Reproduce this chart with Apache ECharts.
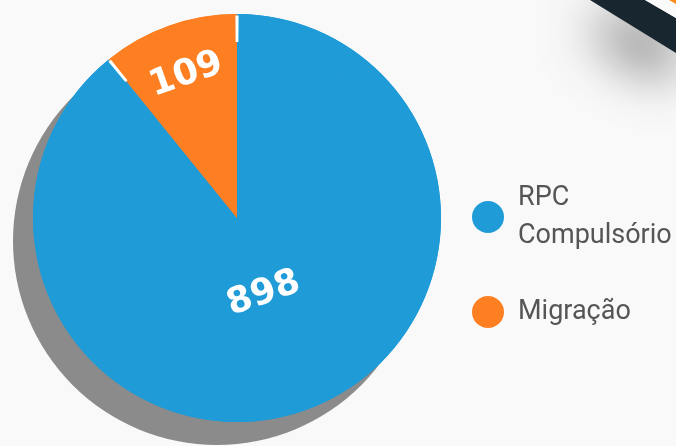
<!DOCTYPE html>
<html>
<head>
<meta charset="utf-8">
<script src="https://cdn.jsdelivr.net/npm/echarts@6/dist/echarts.min.js"></script>
<style>
	html, body { margin: 0; padding: 0; background: #f9f9f9; }
	#chart { width: 676px; height: 446px; }
</style>
</head>
<body>
<div id="chart"></div>
<script>
// dados do gráfico
var categorias = ["RPC Compulsório", "Migração"];
var valores = [898, 109];
var cores = ["#1f9bd7", "#fe7f22"];

var total = valores.reduce(function (a, b) { return a + b; }, 0);

var centro = [237, 218];
var raio = 204;

function fatias(comCor) {
	return categorias.map(function (nome, i) {
		return {
			name: nome,
			value: valores[i],
			itemStyle: { color: comCor ? cores[i] : "transparent" }
		};
	});
}

function serieBase(raios, dados) {
	return {
		type: "pie",
		silent: true,
		center: centro,
		radius: raios,
		startAngle: 90,
		clockwise: true,
		avoidLabelOverlap: false,
		label: { show: false },
		labelLine: { show: false },
		emphasis: { disabled: true },
		data: dados
	};
}

// série só de rótulos, mostra apenas o índice pedido
function serieRotulo(raioInt, raioExt, indice) {
	var s = serieBase([raioInt, raioExt], fatias(false).map(function (d, i) {
		d.label = { show: i === indice };
		return d;
	}));
	s.itemStyle = { borderWidth: 0 };
	s.label = {
		position: "inside",
		rotate: "tangential",
		formatter: "{c}",
		color: "#fff",
		fontFamily: "DejaVu Sans",
		fontWeight: "bold",
		fontSize: 36
	};
	return s;
}

var myChart = echarts.init(document.getElementById("chart"));
myChart.setOption({
	backgroundColor: "#f9f9f9",
	animation: false,
	graphic: [
		{
			type: "polygon",
			z: 10,
			shape: { points: [[590, 0], [645, 0], [676, 18], [676, 53]] },
			style: {
				fill: "#17262f",
				shadowBlur: 55,
				shadowOffsetX: -6,
				shadowOffsetY: 24,
				shadowColor: "rgba(0,0,0,0.8)"
			}
		},
		{
			type: "polygon",
			z: 11,
			shape: { points: [[645, 0], [676, 0], [676, 18]] },
			style: { fill: "#fafafa" }
		},
		{
			type: "polygon",
			z: 12,
			shape: { points: [[669, 0], [676, 0], [676, 4]] },
			style: { fill: "#fe8a1c" }
		}
	],
	legend: {
		orient: "vertical",
		left: 472,
		top: 179,
		padding: 0,
		icon: "circle",
		itemWidth: 32,
		itemHeight: 32,
		itemGap: 38,
		selectedMode: false,
		data: categorias,
		formatter: function (name) {
			return name.replace(" ", "\n");
		},
		textStyle: {
			color: "#555555",
			fontFamily: "Roboto",
			fontSize: 27,
			lineHeight: 38,
			padding: [0, 0, 0, 9]
		}
	},
	series: [
		// sombra cinza atrás do disco
		{
			type: "pie",
			silent: true,
			center: [centro[0] - 20, centro[1] + 23],
			radius: raio,
			label: { show: false },
			labelLine: { show: false },
			emphasis: { disabled: true },
			itemStyle: { color: "#8b8b8b" },
			data: [{ name: "sombra", value: total }]
		},
		// disco principal
		serieBase([0, raio], fatias(true)),
		// anel branco por baixo das marcas de separação
		(function () {
			var s = serieBase([raio - 28, raio - 1.5], [{ name: "anel", value: total }]);
			s.itemStyle = { color: "#ffffff" };
			return s;
		})(),
		// anel colorido com pequenas aberturas nas divisas
		(function () {
			var s = serieBase([raio - 29, raio], fatias(true));
			s.padAngle = 0.9;
			return s;
		})(),
		serieRotulo(0, raio * 0.76, 0),
		serieRotulo(raio * 0.46, raio, 1)
	]
});
</script>
</body>
</html>
